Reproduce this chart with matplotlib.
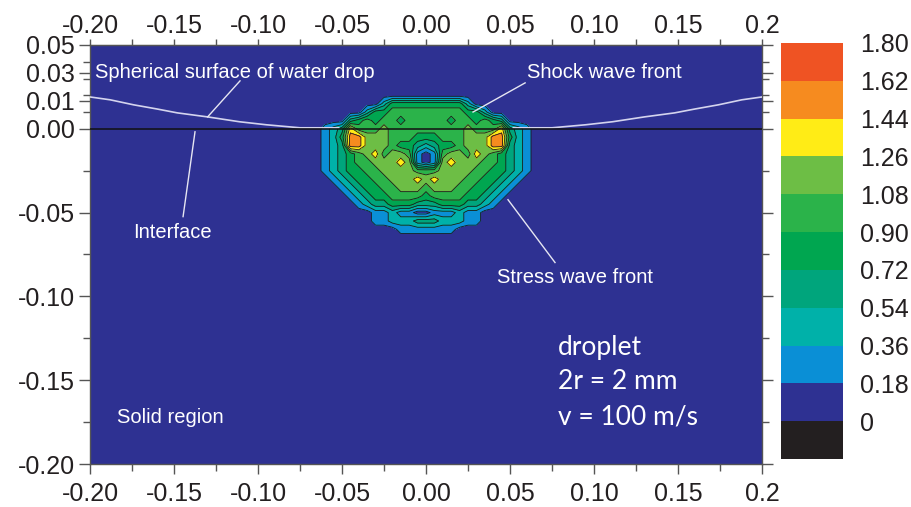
import numpy as np
import matplotlib
matplotlib.use("Agg")
import matplotlib.pyplot as plt
from matplotlib.colors import ListedColormap, BoundaryNorm
import matplotlib.colorbar as mcolorbar

# Stress bands (colour scale) -------------------------------------------------
band_edges = [-0.18, 0.0, 0.18, 0.36, 0.54, 0.72, 0.90, 1.08, 1.26, 1.44, 1.62, 1.80]
band_colors = ["#231F20", "#2E3192", "#0A8FD6", "#00B1A9", "#00A57C", "#00A650",
               "#2BB34A", "#6DBE45", "#FFEC16", "#F68B1F", "#EF5323"]
tick_values = [0.0, 0.18, 0.36, 0.54, 0.72, 0.90, 1.08, 1.26, 1.44, 1.62, 1.80]
tick_labels = ["0", "0.18", "0.36", "0.54", "0.72", "0.90", "1.08", "1.26", "1.44", "1.62", "1.80"]

# Stress value assigned to each band code 0..9 (band mid value)
level_mid = [0.09, 0.27, 0.45, 0.63, 0.81, 0.99, 1.17, 1.35, 1.53, 1.71]

# Sampled stress field near the impact point, x = -0.07 .. 0.07 (step 0.005)
grid_x = np.linspace(-0.07, 0.07, 29)
grid_y = [0.020, 0.015, 0.010, 0.005, 0.000, -0.005, -0.010, -0.015, -0.020,
          -0.025, -0.030, -0.035, -0.040, -0.045, -0.050, -0.055, -0.060, -0.065]
field_rows = [
    "00000000000000000000000000000",
    "00000000024444444442000000000",
    "00000002445555555554420000000",
    "00000345455455555455454300000",
    "00123755565555555556555732100",
    "00124886665554445556668842100",
    "00123886665443234456668832100",
    "00123456756651015665765432100",
    "00123455666761016766655432100",
    "00123445566665556666554432100",
    "00012344556667676665544321000",
    "00001234455666566655443210000",
    "00000123445555455554432100000",
    "00000012334443334443321000000",
    "00000000112110011121100000000",
    "00000000112223332221100000000",
    "00000000000111111100000000000",
    "00000000000000000000000000000",
]

# Free surface of the drop (left half; the right half mirrors it)
surface_x = [-0.200, -0.188, -0.174, -0.160, -0.148, -0.130, -0.111, -0.095, -0.075, -0.052]
surface_y = [0.0190, 0.0173, 0.0143, 0.0118, 0.0095, 0.0071, 0.0042, 0.0024, 0.0006, 0.0006]

x_ticks = [-0.20, -0.15, -0.10, -0.05, 0.00, 0.05, 0.10, 0.15, 0.20]
x_ticklabels = ["-0.20", "-0.15", "-0.10", "-0.05", "0.00", "0.05", "0.10", "0.15", "0.2"]
x_minor = [-0.175, -0.125, -0.075, -0.025, 0.025, 0.075, 0.125, 0.175]
y_ticks = [-0.20, -0.15, -0.10, -0.05, 0.00, 0.0167, 0.0333, 0.05]
y_ticklabels = ["-0.20", "-0.15", "-0.10", "-0.05", "0.00", "0.01", "0.03", "0.05"]
y_minor = [-0.175, -0.125, -0.075, -0.025, 0.01, 0.02, 0.03, 0.04]

# -----------------------------------------------------------------------------
plt.rcParams["font.family"] = ["Liberation Sans", "DejaVu Sans"]
fig = plt.figure(figsize=(9.12, 5.07), dpi=100)
fig.patch.set_facecolor("white")

ax = fig.add_axes([90 / 912, 1 - 464 / 507, 672 / 912, 419 / 507])
ax.set_facecolor(band_colors[1])

Z = np.array([[level_mid[int(c)] for c in row] for row in field_rows])
X, Y = np.meshgrid(grid_x, np.array(grid_y))
ax.contourf(X, Y, Z, levels=band_edges[1:], colors=band_colors[1:], zorder=1)
ax.contour(X, Y, Z, levels=band_edges[2:-1], colors="#1a1a1a", linewidths=0.6, zorder=2)

surf_col = "#D4D4EE"
ax.plot(surface_x, surface_y, color=surf_col, lw=1.2, zorder=3)
ax.plot([-v for v in surface_x], surface_y, color=surf_col, lw=1.2, zorder=3)
ax.axhline(0.0, color="#111111", lw=1.1, zorder=4)

ax.set_xlim(-0.2, 0.2)
ax.set_ylim(-0.2, 0.05)

tick_col = "#555555"
lab_col = "#231F20"

# bottom x axis
ax.set_xticks(x_ticks)
ax.set_xticklabels(x_ticklabels)
ax.set_xticks(x_minor, minor=True)
ax.tick_params(axis="x", which="both", top=False, bottom=True, direction="out",
               colors=tick_col, labelcolor=lab_col, labelsize=18, pad=6)
ax.tick_params(axis="x", which="major", length=7, width=1)
ax.tick_params(axis="x", which="minor", length=5, width=1)

# top x axis
top = ax.secondary_xaxis("top")
top.set_xticks(x_ticks)
top.set_xticklabels(x_ticklabels)
top.set_xticks(x_minor, minor=True)
top.tick_params(axis="x", which="both", direction="out", colors=tick_col,
                labelcolor=lab_col, labelsize=18, pad=1)
top.tick_params(axis="x", which="major", length=4, width=1)
top.tick_params(axis="x", which="minor", length=4, width=1)
top.spines["top"].set_color(tick_col)

# y axis (both sides)
ax.set_yticks(y_ticks)
ax.set_yticklabels(y_ticklabels)
ax.set_yticks(y_minor, minor=True)
ax.tick_params(axis="y", which="both", left=True, right=True, direction="out",
               colors=tick_col, labelcolor=lab_col, labelsize=18, pad=3)
ax.tick_params(axis="y", which="major", length=8, width=1)
ax.tick_params(axis="y", which="minor", length=5, width=1)
for s in ax.spines.values():
    s.set_color(tick_col)
    s.set_linewidth(1.0)

# annotations
txt_kw = dict(color="white", fontsize=14.5, va="center", ha="left", zorder=6)
lead_kw = dict(color="#E6E6F2", lw=1.0, zorder=5)
ax.text(-0.197, 0.0333, "Spherical surface of water drop", **txt_kw)
ax.plot([-0.1107, -0.130], [0.0286, 0.0071], **lead_kw)
ax.text(0.060, 0.0333, "Shock wave front", **txt_kw)
ax.plot([0.059, 0.028], [0.0274, 0.0100], **lead_kw)
ax.text(-0.1744, -0.0619, "Interface", **txt_kw)
ax.plot([-0.1446, -0.1375], [-0.0524, -0.0018], **lead_kw)
ax.text(0.0423, -0.0887, "Stress wave front", **txt_kw)
ax.plot([0.0768, 0.0488], [-0.0798, -0.0423], **lead_kw)
ax.text(-0.184, -0.172, "Solid region", **txt_kw)

big_kw = dict(color="white", fontsize=19, va="center", ha="left",
              family=["Lato", "DejaVu Sans"], zorder=6)
ax.text(0.0786, -0.1304, "droplet", **big_kw)
ax.text(0.0786, -0.1510, "2r = 2 mm", **big_kw)
ax.text(0.0786, -0.1720, "v = 100 m/s", **big_kw)

# colour bar
cax = fig.add_axes([781 / 912, 1 - 459 / 507, 62 / 912, 416 / 507])
cmap = ListedColormap(band_colors)
norm = BoundaryNorm(band_edges, cmap.N)
cb = mcolorbar.ColorbarBase(cax, cmap=cmap, norm=norm, boundaries=band_edges,
                            ticks=tick_values, spacing="uniform")
cb.outline.set_visible(False)
cb.set_ticklabels(tick_labels)
cax.minorticks_off()
cax.tick_params(which="both", length=0, labelsize=18, labelcolor=lab_col, pad=12)

fig.savefig("out.png", dpi=100)
